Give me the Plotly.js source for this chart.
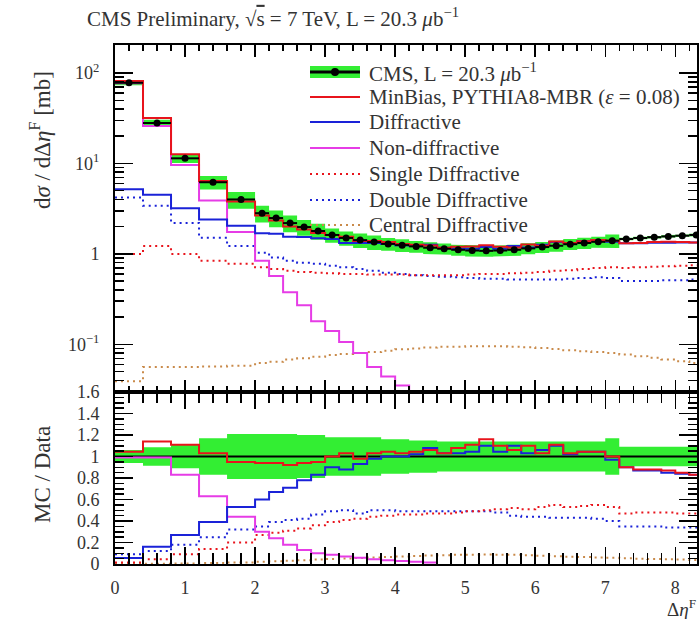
<!DOCTYPE html>
<html>
<head>
<meta charset="utf-8">
<script src="https://cdn.plot.ly/plotly-3.0.1.min.js"></script>
<style>html,body{margin:0;padding:0;background:#fff;}#chart{width:699px;height:619px;}</style>
</head>
<body>
<div id="chart"></div>
<script>
// ---- bin edges (Δη^F) ----
const edges = [0,0.4,0.8,1.2,1.6,2.0,2.2,2.4,2.6,2.8,3.0,3.2,3.4,3.6,3.8,4.0,4.2,4.4,4.6,4.8,5.0,5.2,5.4,5.6,5.8,6.0,6.2,6.4,6.6,6.8,7.0,7.2,7.4,7.6,7.8,8.0,8.2,8.4];

// ---- upper panel: dσ/dΔη^F [mb] ----
const dataCMS = [78, 28, 11.4, 6.2, 4.0, 2.82, 2.49, 2.19, 1.98, 1.79, 1.62, 1.50, 1.42, 1.35, 1.29, 1.25, 1.21, 1.17, 1.14, 1.11, 1.09, 1.08, 1.09, 1.11, 1.15, 1.19, 1.23, 1.28, 1.32, 1.36, 1.40, 1.46, 1.50, 1.53, 1.56, 1.59, 1.62];
const relErr = [0.06, 0.085, 0.11, 0.17, 0.21, 0.21, 0.21, 0.21, 0.20, 0.20, 0.18, 0.18, 0.18, 0.18, 0.16, 0.16, 0.15, 0.15, 0.14, 0.14, 0.14, 0.14, 0.14, 0.14, 0.14, 0.14, 0.14, 0.14, 0.14, 0.14, 0.17, 0.09, 0.09, 0.09, 0.09, 0.09, 0.09];
const relErrTop = [0.06, 0.085, 0.11, 0.17, 0.21, 0.21, 0.21, 0.21, 0.20, 0.20, 0.18, 0.18, 0.18, 0.18, 0.16, 0.16, 0.15, 0.15, 0.14, 0.14, 0.14, 0.14, 0.14, 0.14, 0.14, 0.14, 0.14, 0.14, 0.14, 0.14, 0.17, 0.03, 0.03, 0.03, 0.03, 0.03, 0.03];
const minBias = [81.5, 31.9, 12.65, 6.39, 3.80, 2.65, 2.34, 2.01, 1.86, 1.70, 1.62, 1.545, 1.39, 1.39, 1.35, 1.29, 1.26, 1.24, 1.17, 1.20, 1.21, 1.25, 1.20, 1.18, 1.27, 1.23, 1.37, 1.32, 1.38, 1.42, 1.40, 1.31, 1.32, 1.35, 1.36, 1.35, 1.34];
const diffr = [5.2, 4.5, 3.2, 2.4, 2.05, 1.69, 1.67, 1.55, 1.54, 1.49, 1.46, 1.32, 1.32, 1.32, 1.29, 1.25, 1.23, 1.26, 1.17, 1.14, 1.14, 1.19, 1.14, 1.22, 1.18, 1.26, 1.35, 1.31, 1.38, 1.42, 1.36, 1.31, 1.31, 1.33, 1.33, 1.34, 1.34];
const nonDiffr = [77, 26, 9.6, 3.9, 1.75, 0.84, 0.57, 0.376, 0.27, 0.18, 0.14, 0.106, 0.080, 0.056, 0.044, 0.035, 0.026, 0.019];
const singleD = [1.0, 1.22, 1.0, 0.84, 0.78, 0.71, 0.68, 0.65, 0.63, 0.62, 0.61, 0.60, 0.60, 0.59, 0.59, 0.59, 0.58, 0.58, 0.58, 0.58, 0.59, 0.60, 0.60, 0.61, 0.62, 0.63, 0.65, 0.66, 0.68, 0.70, 0.71, 0.70, 0.71, 0.72, 0.73, 0.74, 0.75];
const doubleD = [4.2, 3.4, 2.2, 1.51, 1.22, 1.03, 0.91, 0.84, 0.80, 0.78, 0.74, 0.71, 0.68, 0.65, 0.62, 0.60, 0.58, 0.57, 0.56, 0.55, 0.54, 0.53, 0.53, 0.52, 0.52, 0.52, 0.52, 0.53, 0.54, 0.55, 0.54, 0.50, 0.50, 0.50, 0.51, 0.51, 0.52];
const centralD = [0.039, 0.056, 0.056, 0.057, 0.058, 0.062, 0.064, 0.068, 0.070, 0.073, 0.076, 0.078, 0.080, 0.082, 0.085, 0.088, 0.090, 0.092, 0.094, 0.094, 0.095, 0.095, 0.095, 0.094, 0.093, 0.091, 0.089, 0.086, 0.084, 0.082, 0.080, 0.077, 0.074, 0.071, 0.068, 0.065, 0.062];

// ---- lower panel: MC / Data ----
const rMinBias = [1.045, 1.14, 1.11, 1.03, 0.95, 0.94, 0.94, 0.92, 0.94, 0.95, 1.0, 1.03, 0.98, 1.03, 1.045, 1.03, 1.045, 1.06, 1.03, 1.08, 1.11, 1.16, 1.10, 1.06, 1.10, 1.03, 1.11, 1.03, 1.045, 1.045, 1.0, 0.90, 0.88, 0.88, 0.87, 0.85, 0.83];
const rDiffr = [0.055, 0.16, 0.27, 0.39, 0.53, 0.60, 0.67, 0.71, 0.78, 0.83, 0.90, 0.88, 0.93, 0.98, 1.0, 1.0, 1.02, 1.08, 1.03, 1.03, 1.045, 1.10, 1.045, 1.10, 1.03, 1.06, 1.10, 1.02, 1.045, 1.045, 0.97, 0.90, 0.87, 0.87, 0.85, 0.84, 0.83];
const rNonDiffr = [0.99, 0.99, 0.83, 0.63, 0.44, 0.30, 0.24, 0.18, 0.13, 0.10, 0.085, 0.07, 0.058, 0.045, 0.035, 0.028, 0.02, 0.015];
const rSingleD = [0.015, 0.045, 0.09, 0.14, 0.20, 0.27, 0.29, 0.31, 0.33, 0.36, 0.39, 0.41, 0.42, 0.44, 0.45, 0.46, 0.46, 0.47, 0.47, 0.48, 0.49, 0.50, 0.51, 0.52, 0.51, 0.53, 0.55, 0.53, 0.54, 0.55, 0.53, 0.47, 0.48, 0.48, 0.48, 0.47, 0.47];
const rDoubleD = [0.09, 0.12, 0.18, 0.25, 0.32, 0.35, 0.39, 0.41, 0.42, 0.46, 0.49, 0.50, 0.47, 0.50, 0.50, 0.49, 0.49, 0.49, 0.49, 0.49, 0.49, 0.49, 0.48, 0.45, 0.44, 0.44, 0.43, 0.43, 0.43, 0.42, 0.40, 0.35, 0.35, 0.35, 0.34, 0.34, 0.34];
const rCentralD = [0.001, 0.002, 0.005, 0.009, 0.015, 0.022, 0.026, 0.031, 0.035, 0.041, 0.047, 0.052, 0.056, 0.061, 0.066, 0.070, 0.074, 0.079, 0.082, 0.085, 0.087, 0.088, 0.087, 0.085, 0.081, 0.076, 0.072, 0.067, 0.064, 0.060, 0.057, 0.053, 0.049, 0.046, 0.044, 0.041, 0.038];

// ---- legend labels ----
const legendLabels = [
  'CMS, L = 20.3 <i>μ</i>b<sup>−1</sup>',
  'MinBias, PYTHIA8-MBR (<i>ε</i> = 0.08)',
  'Diffractive',
  'Non-diffractive',
  'Single Diffractive',
  'Double Diffractive',
  'Central Diffractive'
];

// colours / styles
const C = {red:'#e8141c', blue:'#1a22d8', mag:'#e63ce6', green:'#33ee33', brown:'#c98a4a', black:'#000'};
const DOT = '2px,4px';
const FONT = 'Liberation Serif, DejaVu Serif, serif';

// helpers
const centers = edges.slice(0,-1).map((e,i)=>(e+edges[i+1])/2);
const halfW = edges.slice(0,-1).map((e,i)=>(edges[i+1]-e)/2);
function step(vals){
  const n = vals.length;
  return {x: edges.slice(0,n+1), y: vals.concat([vals[n-1]])};
}
function band(center, rel){
  const xs=[], ys=[];
  for(let i=0;i<center.length;i++){xs.push(edges[i],edges[i+1]); ys.push(center[i]*(1+rel[i]),center[i]*(1+rel[i]));}
  for(let i=center.length-1;i>=0;i--){xs.push(edges[i+1],edges[i]); ys.push(center[i]*(1-rel[i]),center[i]*(1-rel[i]));}
  return {x:xs,y:ys};
}
function stepTrace(vals, color, dash, xa, ya){
  const s = step(vals);
  return {type:'scatter', mode:'lines', x:s.x, y:s.y, xaxis:xa, yaxis:ya, line:{shape:'hv', color:color, width:2, dash:dash||'solid'}, hoverinfo:'skip', showlegend:false};
}

const traces = [];
// upper band
const bTop = band(dataCMS, relErrTop);
traces.push({type:'scatter', mode:'lines', x:bTop.x, y:bTop.y, fill:'toself', fillcolor:C.green, line:{width:0, color:C.green}, xaxis:'x', yaxis:'y', showlegend:false, hoverinfo:'skip'});
traces.push(stepTrace(centralD, C.brown, DOT, 'x', 'y'));
traces.push(stepTrace(doubleD, C.blue, DOT, 'x', 'y'));
traces.push(stepTrace(singleD, C.red, DOT, 'x', 'y'));
traces.push(stepTrace(nonDiffr, C.mag, 'solid', 'x', 'y'));
traces.push(stepTrace(diffr, C.blue, 'solid', 'x', 'y'));
traces.push(stepTrace(minBias, C.red, 'solid', 'x', 'y'));
traces.push({type:'scatter', mode:'markers', x:centers, y:dataCMS, xaxis:'x', yaxis:'y',
  marker:{color:C.black, size:7}, error_x:{type:'data', array:halfW, color:C.black, thickness:2, width:0}, showlegend:false, hoverinfo:'skip'});

// lower band
const ones = dataCMS.map(v=>v/v);
const bLow = band(ones, relErr);
traces.push({type:'scatter', mode:'lines', x:bLow.x, y:bLow.y, fill:'toself', fillcolor:C.green, line:{width:0, color:C.green}, xaxis:'x2', yaxis:'y2', showlegend:false, hoverinfo:'skip'});
traces.push(stepTrace(ones, C.black, 'solid', 'x2', 'y2'));
traces.push(stepTrace(rCentralD, C.brown, DOT, 'x2', 'y2'));
traces.push(stepTrace(rDoubleD, C.blue, DOT, 'x2', 'y2'));
traces.push(stepTrace(rSingleD, C.red, DOT, 'x2', 'y2'));
traces.push(stepTrace(rNonDiffr, C.mag, 'solid', 'x2', 'y2'));
traces.push(stepTrace(rDiffr, C.blue, 'solid', 'x2', 'y2'));
traces.push(stepTrace(rMinBias, C.red, 'solid', 'x2', 'y2'));

// geometry (pixel helpers for paper coords)
const W=699, H=619, L=115, R=2, T=45, B=55;
const PW=W-L-R, PH=H-T-B;
const px = v => (v-L)/PW;
const py = v => (H-B-v)/PH;
const splitY = 392;
const lowTop = (H-B-splitY)/PH;

// manual legend
const shapes=[], ann=[];
const rowsY=[72,97,122,148,174,200,225];
const x0=px(310), x1=px(360);
const styles=[null,[C.red,'solid'],[C.blue,'solid'],[C.mag,'solid'],[C.red,DOT],[C.blue,DOT],[C.brown,DOT]];
rowsY.forEach((yy,i)=>{
  if(i===0){
    shapes.push({type:'rect', xref:'paper', yref:'paper', x0:x0, x1:x1, y0:py(yy+6), y1:py(yy-6), fillcolor:C.green, line:{width:0}});
    shapes.push({type:'line', xref:'paper', yref:'paper', x0:x0, x1:x1, y0:py(yy), y1:py(yy), line:{color:'#000', width:3}});
    shapes.push({type:'circle', xref:'paper', yref:'paper', x0:px(331), x1:px(339), y0:py(yy+4), y1:py(yy-4), fillcolor:'#000', line:{width:0}});
  } else {
    shapes.push({type:'line', xref:'paper', yref:'paper', x0:x0, x1:x1, y0:py(yy), y1:py(yy), line:{color:styles[i][0], width:2, dash:styles[i][1]}});
  }
  ann.push({xref:'paper', yref:'paper', x:px(367), y:py(yy), xanchor:'left', yanchor:'middle', showarrow:false, text:legendLabels[i], font:{family:FONT, size:21, color:'#333'}});
});

// titles
ann.push({xref:'paper', yref:'paper', x:px(85), y:py(18), xanchor:'left', yanchor:'middle', showarrow:false,
  text:'CMS Preliminary, √<span style="text-decoration:overline">s</span> = 7 TeV, L = 20.3 <i>μ</i>b<sup>−1</sup>', font:{family:FONT, size:21, color:'#333'}});
ann.push({xref:'paper', yref:'paper', x:px(40), y:py(140), xanchor:'center', yanchor:'middle', textangle:-90, showarrow:false,
  text:'d<i>σ</i> / dΔ<i>η</i><sup>F</sup> [mb]', font:{family:FONT, size:23, color:'#333'}});
ann.push({xref:'paper', yref:'paper', x:px(42), y:py(475), xanchor:'center', yanchor:'middle', textangle:-90, showarrow:false,
  text:'MC / Data', font:{family:FONT, size:23, color:'#333'}});
ann.push({xref:'paper', yref:'paper', x:px(698), y:py(608), xanchor:'right', yanchor:'middle', showarrow:false,
  text:'Δ<i>η</i><sup>F</sup>', font:{family:FONT, size:19, color:'#333'}});

const tickFont = {family:FONT, size:18, color:'#333'};
const xr = [0, 8.31];
const logMinor = [0.03,0.04,0.05,0.06,0.07,0.08,0.09,0.2,0.3,0.4,0.5,0.6,0.7,0.8,0.9,2,3,4,5,6,7,8,9,20,30,40,50,60,70,80,90,200];

const layout = {
  width:W, height:H, margin:{l:L, r:R, t:T, b:B, pad:0},
  paper_bgcolor:'#fff', plot_bgcolor:'#fff', showlegend:false,
  xaxis:{domain:[0,1], anchor:'y', range:xr, showticklabels:false, ticks:'inside', ticklen:12, tickwidth:1.5, tickcolor:'#000',
    dtick:1, tick0:0, minor:{dtick:0.2, tick0:0, ticks:'inside', ticklen:6, tickwidth:1.5, tickcolor:'#000'},
    showline:true, linecolor:'#000', linewidth:2, mirror:'ticks', showgrid:false, zeroline:false},
  yaxis:{domain:[lowTop,1], anchor:'x', type:'log', range:[Math.log10(0.0297), 2.31], tickmode:'array', tickvals:[0.1,1,10,100],
    ticktext:['10<sup>−1</sup>','1','10<sup>1</sup>','10<sup>2</sup>'], tickfont:tickFont, ticks:'inside', ticklen:18, tickwidth:1.5, tickcolor:'#000',
    ticklabelstandoff:10,
    minor:{tickmode:'array', tickvals:logMinor, ticks:'inside', ticklen:9, tickwidth:1.5, tickcolor:'#000'},
    showline:true, linecolor:'#000', linewidth:2, mirror:'ticks', showgrid:false, zeroline:false},
  xaxis2:{domain:[0,1], anchor:'y2', range:xr, tickfont:tickFont, ticks:'inside', ticklen:17, tickwidth:1.5, tickcolor:'#000',
    dtick:1, tick0:0, ticklabelstandoff:6, minor:{dtick:0.2, tick0:0, ticks:'inside', ticklen:11, tickwidth:1.5, tickcolor:'#000'},
    showline:true, linecolor:'#000', linewidth:2, mirror:'ticks', showgrid:false, zeroline:false},
  yaxis2:{domain:[0,lowTop], anchor:'x2', range:[0,1.6], dtick:0.2, tick0:0, tickfont:tickFont, ticks:'inside', ticklen:18, tickwidth:1.5, tickcolor:'#000',
    ticklabelstandoff:10, minor:{dtick:0.05, tick0:0, ticks:'inside', ticklen:9, tickwidth:1.5, tickcolor:'#000'},
    showline:true, linecolor:'#000', linewidth:2, mirror:'ticks', showgrid:false, zeroline:false},
  shapes:shapes, annotations:ann
};

Plotly.newPlot('chart', traces, layout, {staticPlot:true, displayModeBar:false});
</script>
</body>
</html>
